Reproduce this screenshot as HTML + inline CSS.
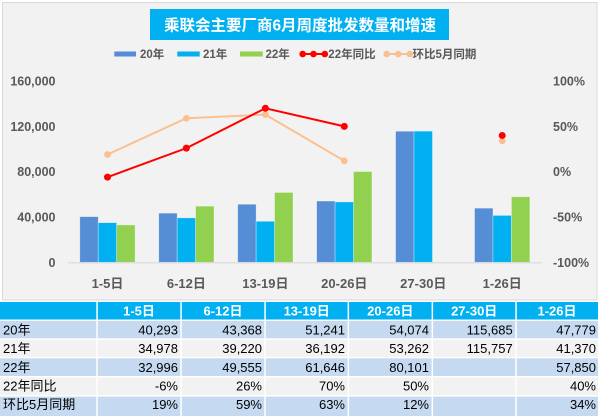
<!DOCTYPE html>
<html>
<head>
<meta charset="utf-8">
<style>
  html,body{margin:0;padding:0;background:#ffffff;}
  body{width:600px;height:416px;overflow:hidden;}
  svg{display:block;}
  text{font-family:"Liberation Sans","Noto Sans CJK SC",sans-serif;}
  .ax{font-size:12.5px;font-weight:bold;fill:#595959;}
  .cat{font-size:13px;font-weight:bold;fill:#595959;}
  .lg{font-size:11.5px;font-weight:bold;fill:#595959;}
  .th{font-size:13px;font-weight:bold;fill:#ffffff;}
  .td{font-size:13px;fill:#000000;}
</style>
</head>
<body>
<svg width="600" height="416" viewBox="0 0 600 416" xmlns="http://www.w3.org/2000/svg">
  <!-- chart frame -->
  <rect x="2.5" y="2.5" width="594.5" height="297.5" fill="#f2f2f2" stroke="#d9d9d9" stroke-width="1"/>

  <!-- title -->
  <rect x="150" y="9" width="299" height="31" fill="#00b0f0"/>
  <text x="300" y="30.5" text-anchor="middle" font-size="15.5" font-weight="bold" fill="#ffffff">乘联会主要厂商6月周度批发数量和增速</text>

  <!-- legend -->
  <rect x="114.3" y="51.5" width="21.7" height="5" fill="#558ed5"/>
  <text class="lg" x="140" y="58.2">20年</text>
  <rect x="177.3" y="51.5" width="22.4" height="5" fill="#00b0f0"/>
  <text class="lg" x="203" y="58.2">21年</text>
  <rect x="240" y="51.5" width="22.7" height="5" fill="#92d050"/>
  <text class="lg" x="265.5" y="58.2">22年</text>
  <line x1="299.5" y1="54" x2="328" y2="54" stroke="#ff0000" stroke-width="2"/>
  <circle cx="302.7" cy="54" r="3.3" fill="#ff0000"/>
  <circle cx="313.5" cy="54" r="3.3" fill="#ff0000"/>
  <circle cx="324.8" cy="54" r="3.3" fill="#ff0000"/>
  <text class="lg" x="328.3" y="58.2">22年同比</text>
  <line x1="383.5" y1="54" x2="412" y2="54" stroke="#fac090" stroke-width="2"/>
  <circle cx="386.7" cy="54" r="3.3" fill="#fac090"/>
  <circle cx="398.3" cy="54" r="3.3" fill="#fac090"/>
  <circle cx="409.8" cy="54" r="3.3" fill="#fac090"/>
  <text class="lg" x="412.5" y="58.2">环比5月同期</text>

  <!-- left axis labels -->
  <text class="ax" x="55.5" y="85.5" text-anchor="end">160,000</text>
  <text class="ax" x="55.5" y="130.8" text-anchor="end">120,000</text>
  <text class="ax" x="55.5" y="176.2" text-anchor="end">80,000</text>
  <text class="ax" x="55.5" y="221.5" text-anchor="end">40,000</text>
  <text class="ax" x="55.5" y="266.8" text-anchor="end">0</text>

  <!-- right axis labels -->
  <text class="ax" x="553" y="85.5">100%</text>
  <text class="ax" x="553" y="130.8">50%</text>
  <text class="ax" x="553" y="176.2">0%</text>
  <text class="ax" x="553" y="221.5">-50%</text>
  <text class="ax" x="553" y="266.8">-100%</text>

  <!-- bars -->
  <g stroke="#ffffff" stroke-opacity="0.45" stroke-width="0.7">
    <!-- 20年 -->
    <rect x="79.8" y="216.65" width="18.43" height="45.65" fill="#558ed5"/>
    <rect x="158.75" y="213.16" width="18.43" height="49.14" fill="#558ed5"/>
    <rect x="237.7" y="204.24" width="18.43" height="58.06" fill="#558ed5"/>
    <rect x="316.65" y="201.03" width="18.43" height="61.27" fill="#558ed5"/>
    <rect x="395.6" y="131.23" width="18.43" height="131.07" fill="#558ed5"/>
    <rect x="474.55" y="208.17" width="18.43" height="54.13" fill="#558ed5"/>
    <!-- 21年 -->
    <rect x="98.23" y="222.67" width="18.43" height="39.63" fill="#00b0f0"/>
    <rect x="177.18" y="217.86" width="18.43" height="44.44" fill="#00b0f0"/>
    <rect x="256.13" y="221.29" width="18.43" height="41.01" fill="#00b0f0"/>
    <rect x="335.08" y="201.95" width="18.43" height="60.35" fill="#00b0f0"/>
    <rect x="414.03" y="131.15" width="18.43" height="131.15" fill="#00b0f0"/>
    <rect x="492.98" y="215.43" width="18.43" height="46.87" fill="#00b0f0"/>
    <!-- 22年 -->
    <rect x="116.66" y="224.92" width="18.43" height="37.38" fill="#92d050"/>
    <rect x="195.61" y="206.15" width="18.43" height="56.15" fill="#92d050"/>
    <rect x="274.56" y="192.46" width="18.43" height="69.84" fill="#92d050"/>
    <rect x="353.51" y="171.55" width="18.43" height="90.75" fill="#92d050"/>
    <rect x="511.41" y="196.76" width="18.43" height="65.54" fill="#92d050"/>
  </g>

  <!-- axis line -->
  <line x1="68" y1="262.8" x2="541.7" y2="262.8" stroke="#d9d9d9" stroke-width="1.2"/>

  <!-- 环比5月同期 line -->
  <polyline points="107.5,154.48 186.4,118.22 265.4,114.59 344.3,160.82" fill="none" stroke="#fac090" stroke-width="2"/>
  <g fill="#fac090">
    <circle cx="107.5" cy="154.48" r="3.4"/>
    <circle cx="186.4" cy="118.22" r="3.4"/>
    <circle cx="265.4" cy="114.59" r="3.4"/>
    <circle cx="344.3" cy="160.82" r="3.4"/>
    <circle cx="502.2" cy="140.88" r="3.4"/>
  </g>

  <!-- 22年同比 line -->
  <polyline points="107.5,177.14 186.4,148.13 265.4,108.25 344.3,126.38" fill="none" stroke="#ff0000" stroke-width="2"/>
  <g fill="#ff0000">
    <circle cx="107.5" cy="177.14" r="3.5"/>
    <circle cx="186.4" cy="148.13" r="3.5"/>
    <circle cx="265.4" cy="108.25" r="3.5"/>
    <circle cx="344.3" cy="126.38" r="3.5"/>
    <circle cx="502.2" cy="135.44" r="3.5"/>
  </g>

  <!-- category labels -->
  <text class="cat" x="107.5" y="288" text-anchor="middle">1-5日</text>
  <text class="cat" x="186.4" y="288" text-anchor="middle">6-12日</text>
  <text class="cat" x="265.4" y="288" text-anchor="middle">13-19日</text>
  <text class="cat" x="344.3" y="288" text-anchor="middle">20-26日</text>
  <text class="cat" x="423.3" y="288" text-anchor="middle">27-30日</text>
  <text class="cat" x="502.2" y="288" text-anchor="middle">1-26日</text>

  <!-- TABLE -->
  <!-- header -->
  <g fill="#00b0f0">
    <rect x="0" y="302" width="96.3" height="17.5"/>
    <rect x="97.8" y="302" width="82.5" height="17.5"/>
    <rect x="181.8" y="302" width="82.5" height="17.5"/>
    <rect x="265.8" y="302" width="81.8" height="17.5"/>
    <rect x="349.1" y="302" width="82.5" height="17.5"/>
    <rect x="433.1" y="302" width="82.2" height="17.5"/>
    <rect x="516.8" y="302" width="81.2" height="17.5"/>
  </g>
  <!-- rows: blue rows 1,3,5; gray rows 2,4 -->
  <g fill="#c5d9f1">
    <rect x="0" y="321" width="96.3" height="17.3"/>
    <rect x="97.8" y="321" width="82.5" height="17.3"/>
    <rect x="181.8" y="321" width="82.5" height="17.3"/>
    <rect x="265.8" y="321" width="81.8" height="17.3"/>
    <rect x="349.1" y="321" width="82.5" height="17.3"/>
    <rect x="433.1" y="321" width="82.2" height="17.3"/>
    <rect x="516.8" y="321" width="81.2" height="17.3"/>

    <rect x="0" y="358.3" width="96.3" height="17.7"/>
    <rect x="97.8" y="358.3" width="82.5" height="17.7"/>
    <rect x="181.8" y="358.3" width="82.5" height="17.7"/>
    <rect x="265.8" y="358.3" width="81.8" height="17.7"/>
    <rect x="349.1" y="358.3" width="82.5" height="17.7"/>
    <rect x="433.1" y="358.3" width="82.2" height="17.7"/>
    <rect x="516.8" y="358.3" width="81.2" height="17.7"/>

    <rect x="0" y="396.6" width="96.3" height="19.4"/>
    <rect x="97.8" y="396.6" width="82.5" height="19.4"/>
    <rect x="181.8" y="396.6" width="82.5" height="19.4"/>
    <rect x="265.8" y="396.6" width="81.8" height="19.4"/>
    <rect x="349.1" y="396.6" width="82.5" height="19.4"/>
    <rect x="433.1" y="396.6" width="82.2" height="19.4"/>
    <rect x="516.8" y="396.6" width="81.2" height="19.4"/>
  </g>
  <g fill="#f2f2f2">
    <rect x="0" y="339.8" width="96.3" height="17"/>
    <rect x="97.8" y="339.8" width="82.5" height="17"/>
    <rect x="181.8" y="339.8" width="82.5" height="17"/>
    <rect x="265.8" y="339.8" width="81.8" height="17"/>
    <rect x="349.1" y="339.8" width="82.5" height="17"/>
    <rect x="433.1" y="339.8" width="82.2" height="17"/>
    <rect x="516.8" y="339.8" width="81.2" height="17"/>

    <rect x="0" y="377.5" width="96.3" height="17.6"/>
    <rect x="97.8" y="377.5" width="82.5" height="17.6"/>
    <rect x="181.8" y="377.5" width="82.5" height="17.6"/>
    <rect x="265.8" y="377.5" width="81.8" height="17.6"/>
    <rect x="349.1" y="377.5" width="82.5" height="17.6"/>
    <rect x="433.1" y="377.5" width="82.2" height="17.6"/>
    <rect x="516.8" y="377.5" width="81.2" height="17.6"/>
  </g>

  <!-- header text -->
  <text class="th" x="139" y="315.5" text-anchor="middle">1-5日</text>
  <text class="th" x="223" y="315.5" text-anchor="middle">6-12日</text>
  <text class="th" x="306.7" y="315.5" text-anchor="middle">13-19日</text>
  <text class="th" x="390.3" y="315.5" text-anchor="middle">20-26日</text>
  <text class="th" x="474.2" y="315.5" text-anchor="middle">27-30日</text>
  <text class="th" x="557" y="315.5" text-anchor="middle">1-26日</text>

  <!-- row labels -->
  <text class="td" x="3" y="334.3">20年</text>
  <text class="td" x="3" y="353">21年</text>
  <text class="td" x="3" y="371.8">22年</text>
  <text class="td" x="3" y="390.6">22年同比</text>
  <text class="td" x="3" y="408.8">环比5月同期</text>

  <!-- data -->
  <g class="td" text-anchor="end">
    <text class="td" x="178" y="334.3" text-anchor="end">40,293</text>
    <text class="td" x="262" y="334.3" text-anchor="end">43,368</text>
    <text class="td" x="345" y="334.3" text-anchor="end">51,241</text>
    <text class="td" x="429" y="334.3" text-anchor="end">54,074</text>
    <text class="td" x="512.7" y="334.3" text-anchor="end">115,685</text>
    <text class="td" x="596" y="334.3" text-anchor="end">47,779</text>

    <text class="td" x="178" y="353" text-anchor="end">34,978</text>
    <text class="td" x="262" y="353" text-anchor="end">39,220</text>
    <text class="td" x="345" y="353" text-anchor="end">36,192</text>
    <text class="td" x="429" y="353" text-anchor="end">53,262</text>
    <text class="td" x="512.7" y="353" text-anchor="end">115,757</text>
    <text class="td" x="596" y="353" text-anchor="end">41,370</text>

    <text class="td" x="178" y="371.8" text-anchor="end">32,996</text>
    <text class="td" x="262" y="371.8" text-anchor="end">49,555</text>
    <text class="td" x="345" y="371.8" text-anchor="end">61,646</text>
    <text class="td" x="429" y="371.8" text-anchor="end">80,101</text>
    <text class="td" x="596" y="371.8" text-anchor="end">57,850</text>

    <text class="td" x="178" y="390.6" text-anchor="end">-6%</text>
    <text class="td" x="262" y="390.6" text-anchor="end">26%</text>
    <text class="td" x="345" y="390.6" text-anchor="end">70%</text>
    <text class="td" x="429" y="390.6" text-anchor="end">50%</text>
    <text class="td" x="596" y="390.6" text-anchor="end">40%</text>

    <text class="td" x="178" y="408.8" text-anchor="end">19%</text>
    <text class="td" x="262" y="408.8" text-anchor="end">59%</text>
    <text class="td" x="345" y="408.8" text-anchor="end">63%</text>
    <text class="td" x="429" y="408.8" text-anchor="end">12%</text>
    <text class="td" x="596" y="408.8" text-anchor="end">34%</text>
  </g>
</svg>
</body>
</html>
